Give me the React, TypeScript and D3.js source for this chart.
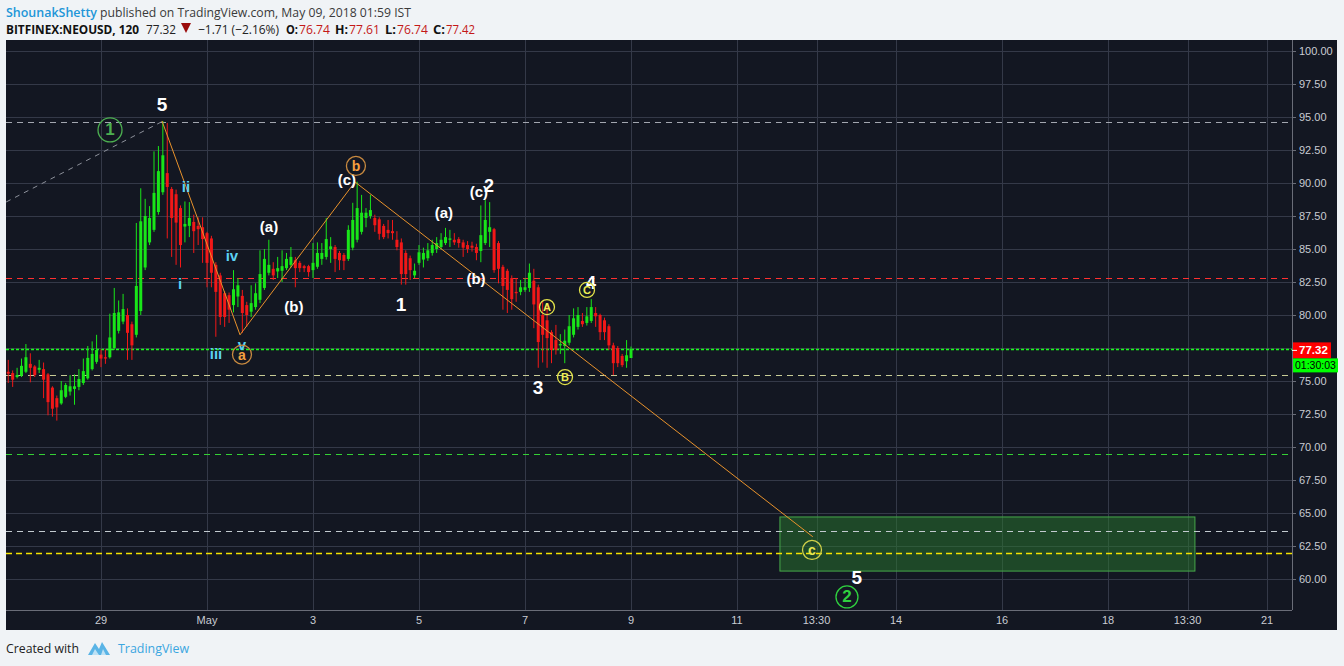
import React from 'react';
import * as d3 from 'd3';

// ---------------- data ----------------
const priceTicks = [60, 62.5, 65, 67.5, 70, 72.5, 75, 77.5, 80, 82.5, 85, 87.5, 90, 92.5, 95, 97.5, 100];
const dateTickDays = [0, 2, 4, 6, 8, 10, 12, 13.5, 15, 17, 19, 20.5, 22];
const dateTickLabels = ['29', 'May', '3', '5', '7', '9', '11', '13:30', '14', '16', '18', '13:30', '21'];

// 2h candles, day 0 = Apr 29 00:00
const firstCandleDay = -21 / 12;
const candleStepDay = 1 / 12;
// [open, high, low, close]
const ohlc: [number, number, number, number][] = [
  [75.7, 76.6, 74.85, 75.55], [75.6, 75.8, 74.55, 75.1], [75.3, 76.0, 75.2, 75.45], [75.4, 76.7, 75.3, 76.15],
  [75.7, 77.8, 75.6, 76.8], [76.3, 77.1, 74.9, 76.0], [76.1, 76.2, 75.3, 75.45], [75.85, 76.6, 75.6, 76.0],
  [75.9, 76.4, 73.7, 75.1], [75.5, 75.6, 72.4, 73.4], [74.5, 74.6, 72.3, 72.9], [73.7, 73.9, 72.0, 73.0],
  [73.3, 75.0, 73.2, 74.3], [73.8, 74.85, 73.7, 74.7], [74.2, 75.45, 73.9, 74.6], [74.4, 75.5, 73.2, 74.6],
  [74.55, 75.9, 74.3, 75.15], [74.85, 76.7, 74.7, 75.75], [75.2, 77.65, 75.1, 76.75], [75.9, 78.0, 75.8, 77.05],
  [76.45, 78.5, 76.3, 77.35], [77.0, 77.4, 76.05, 76.7], [76.8, 77.4, 76.3, 76.7], [76.8, 80.1, 76.7, 78.3],
  [77.5, 82.05, 77.35, 80.15], [78.8, 81.1, 78.6, 80.2], [79.5, 81.6, 79.3, 80.45], [80.0, 80.5, 76.6, 78.65],
  [79.3, 79.5, 76.6, 77.7], [78.5, 86.97, 78.3, 82.2], [80.3, 89.6, 80.0, 87.1], [83.6, 88.8, 83.4, 87.5],
  [85.5, 88.25, 85.3, 87.35], [86.45, 92.4, 86.3, 89.25], [87.8, 92.8, 87.6, 90.9], [89.3, 94.7, 89.1, 92.1],
  [90.75, 94.55, 85.8, 89.7], [89.55, 89.7, 84.4, 87.35], [89.15, 89.5, 83.8, 87.0], [88.1, 88.3, 83.6, 85.3],
  [86.7, 88.6, 85.5, 86.9], [86.75, 88.55, 85.9, 87.35], [87.05, 87.6, 84.7, 86.35], [86.75, 87.4, 85.3, 86.5],
  [86.65, 87.4, 83.95, 85.75], [86.2, 86.3, 82.1, 83.95], [85.8, 86.0, 82.1, 83.2], [83.8, 84.0, 78.35, 81.75],
  [83.0, 83.2, 79.25, 79.85], [81.65, 81.8, 79.1, 79.85], [81.5, 81.7, 79.4, 80.4], [80.75, 83.4, 80.2, 81.95],
  [81.4, 82.8, 80.6, 82.25], [81.45, 81.9, 78.65, 80.15], [80.75, 81.0, 79.1, 80.0], [80.25, 82.25, 79.85, 80.9],
  [80.6, 82.4, 80.4, 81.65], [81.15, 84.9, 80.9, 83.1], [82.05, 85.0, 81.9, 84.25], [83.2, 85.7, 83.0, 83.8],
  [83.5, 84.0, 82.65, 83.0], [83.3, 84.4, 82.8, 83.55], [83.35, 84.9, 82.5, 83.7], [83.55, 84.7, 83.4, 84.25],
  [83.8, 85.15, 83.6, 84.4], [84.15, 84.4, 82.1, 83.55], [83.95, 84.1, 83.25, 83.55], [83.7, 83.8, 83.25, 83.55],
  [83.7, 83.8, 82.9, 83.25], [83.4, 85.45, 82.8, 83.95], [83.65, 85.5, 83.5, 84.7], [84.25, 85.45, 83.8, 84.7],
  [84.4, 87.35, 84.2, 85.75], [85.0, 85.9, 83.95, 85.2], [85.15, 85.3, 83.25, 84.25], [84.7, 84.85, 83.4, 84.15],
  [84.55, 84.7, 83.4, 84.1], [84.25, 86.8, 84.1, 86.45], [85.1, 88.5, 84.9, 87.2], [85.7, 90.1, 85.5, 88.1],
  [86.3, 89.1, 86.1, 87.75], [87.35, 88.1, 86.65, 87.75], [87.5, 89.1, 87.3, 87.95], [87.35, 87.6, 86.3, 86.8],
  [87.25, 87.4, 85.7, 86.15], [86.75, 86.9, 85.75, 85.9], [86.45, 87.2, 85.8, 86.2], [86.35, 87.2, 85.7, 86.2],
  [85.7, 86.35, 84.9, 85.15], [85.5, 85.8, 82.3, 83.1], [84.7, 84.9, 82.3, 83.1], [84.3, 84.5, 82.65, 83.4],
  [83.0, 83.9, 82.8, 83.35], [83.95, 85.3, 83.8, 84.75], [84.2, 85.1, 83.6, 84.7], [84.3, 85.45, 84.1, 84.9],
  [84.7, 85.7, 84.5, 85.3], [85.0, 85.9, 84.7, 85.45], [85.15, 86.2, 84.95, 85.7], [85.45, 86.6, 85.3, 85.9],
  [85.7, 86.45, 85.15, 85.8], [85.7, 86.2, 85.3, 85.5], [85.75, 85.9, 85.1, 85.45], [85.5, 85.7, 84.4, 85.1],
  [85.3, 85.6, 84.7, 85.0], [85.25, 85.55, 84.8, 85.1], [85.15, 85.4, 84.15, 84.7], [84.85, 88.3, 84.0, 86.05],
  [85.45, 88.7, 85.3, 87.2], [86.3, 88.55, 85.15, 86.65], [86.5, 86.6, 83.2, 83.4], [85.45, 85.6, 82.4, 83.5],
  [83.65, 83.8, 80.4, 82.2], [83.35, 83.5, 80.15, 81.9], [82.8, 83.0, 80.4, 81.2], [81.75, 82.8, 81.0, 81.65],
  [81.75, 82.65, 81.5, 82.1], [81.9, 82.8, 81.75, 82.1], [82.05, 83.9, 81.75, 83.2], [82.6, 83.5, 79.0, 80.8],
  [82.1, 82.3, 76.0, 77.95], [80.0, 81.1, 76.4, 78.5], [79.6, 80.75, 76.0, 78.25], [78.7, 78.85, 76.35, 77.35],
  [78.1, 79.25, 77.0, 77.35], [77.7, 78.55, 77.05, 77.8], [77.65, 78.9, 76.35, 78.05], [77.9, 80.0, 77.7, 79.15],
  [78.5, 80.5, 78.3, 79.75], [79.1, 80.6, 78.9, 80.0], [79.55, 80.15, 79.1, 79.3], [79.4, 80.6, 79.2, 79.9],
  [79.55, 81.2, 79.4, 80.6], [80.15, 80.6, 79.1, 79.9], [80.0, 80.1, 78.1, 78.7], [79.6, 79.8, 78.1, 78.7],
  [79.15, 79.3, 77.35, 77.7], [77.7, 77.9, 75.45, 76.35], [77.5, 77.65, 76.05, 76.35], [76.9, 77.05, 76.05, 76.2],
  [76.5, 78.1, 76.0, 76.95], [76.74, 77.61, 76.74, 77.42],
];

const levelPrices = [94.65, 82.78, 77.45, 75.43, 69.5, 63.6, 61.95];
const levelColors = ['#a3a7b0', '#ff3030', '#1aff1a', '#c8cc96', '#35d035', '#c3cbd0', '#f5e400'];
const levelDashes = ['6,5', '6,5', '3,2', '6,5', '6,5', '6,5', '6,4'];
const levelWidths = [1, 1, 1.3, 1, 1, 1, 1.3];

const waveDays = [1.151, 2.623, 4.792, 13.43];
const wavePrices = [94.7, 78.5, 90.08, 63.2];
const trendDays = [-1.79, 1.15];
const trendPrices = [88.56, 94.65];

const boxDays = [12.81, 20.64];
const boxPrices = [60.6, 64.7];

const lastPrice = 77.32;
const lastPriceText = '77.32';
const countdownText = '01:30:03';

type Lbl = { t: number; p: number; text: string; color: string; size: number };
const textLabels: Lbl[] = [
  { t: 1.151, p: 95.91, text: '5', color: '#ffffff', size: 19 },
  { t: 1.604, p: 89.77, text: 'ii', color: '#5cd2f2', size: 15 },
  { t: 1.49, p: 82.35, text: 'i', color: '#5cd2f2', size: 15 },
  { t: 2.47, p: 84.47, text: 'iv', color: '#5cd2f2', size: 15 },
  { t: 2.17, p: 77.05, text: 'iii', color: '#5cd2f2', size: 15 },
  { t: 2.66, p: 77.8, text: 'v', color: '#5cd2f2', size: 15 },
  { t: 3.17, p: 86.74, text: '(a)', color: '#ffffff', size: 15 },
  { t: 3.64, p: 80.68, text: '(b)', color: '#ffffff', size: 15 },
  { t: 4.64, p: 90.23, text: '(c)', color: '#ffffff', size: 15 },
  { t: 6.47, p: 87.73, text: '(a)', color: '#ffffff', size: 15 },
  { t: 7.075, p: 82.8, text: '(b)', color: '#ffffff', size: 15 },
  { t: 7.13, p: 89.39, text: '(c)', color: '#ffffff', size: 15 },
  { t: 7.32, p: 89.77, text: '2', color: '#ffffff', size: 18 },
  { t: 5.66, p: 80.76, text: '1', color: '#ffffff', size: 19 },
  { t: 8.245, p: 74.47, text: '3', color: '#ffffff', size: 19 },
  { t: 9.245, p: 82.42, text: '4', color: '#ffffff', size: 18 },
  { t: 14.26, p: 60.08, text: '5', color: '#ffffff', size: 19 },
];

type Circ = { t: number; p: number; text: string; stroke: string; color: string; r: number; size: number };
const circledLabels: Circ[] = [
  { t: 0.17, p: 94.02, text: '1', stroke: '#4caf50', color: '#4caf50', r: 12, size: 17 },
  { t: 2.66, p: 77.0, text: 'a', stroke: '#c88a40', color: '#f5a040', r: 9.5, size: 14 },
  { t: 4.81, p: 91.29, text: 'b', stroke: '#c88a40', color: '#f5a040', r: 9.5, size: 14 },
  { t: 8.415, p: 80.6, text: 'A', stroke: '#e2e24a', color: '#eeee55', r: 7.5, size: 11 },
  { t: 8.755, p: 75.3, text: 'B', stroke: '#e2e24a', color: '#eeee55', r: 7.5, size: 11 },
  { t: 9.17, p: 81.9, text: 'C', stroke: '#e2e24a', color: '#eeee55', r: 7.5, size: 11 },
  { t: 13.415, p: 62.2, text: 'c', stroke: '#d2d24a', color: '#e6e650', r: 9.5, size: 14 },
  { t: 14.075, p: 58.64, text: '2', stroke: '#2fd03f', color: '#2fd03f', r: 11, size: 17 },
];

// ---------------- layout ----------------
const W = 1344;
const H = 666;
const panel = { left: 6, right: 1337, top: 40, bottom: 630 };
const plot = { left: 6, right: 1292, top: 40, bottom: 610 };

const xs = d3.scaleLinear().domain([0, 22]).range([101, 1267]);
const ys = d3.scaleLinear().domain([60, 100]).range([579, 51]);

const BG = '#131722';
const GRID = '#343948';
const GREEN = '#19e619';
const RED = '#f21818';
const AXIS_TEXT = '#c9ccd3';
const FONT = "'Liberation Sans', Arial, sans-serif";
const HFONT = "'Open Sans', 'Noto Sans', sans-serif";

export default function App() {
  const wavePath = d3.line<number>().x((_, i) => xs(waveDays[i])).y((p) => ys(p))(wavePrices) || '';
  const trendPath = d3.line<number>().x((_, i) => xs(trendDays[i])).y((p) => ys(p))(trendPrices) || '';

  const header1 = [
    { x: 6, len: 91, text: 'ShounakShetty', fill: '#2196d8', weight: 600 },
    { x: 100, len: 311, text: 'published on TradingView.com, May 09, 2018 01:59 IST', fill: '#3a3a3a', weight: 400 },
  ];
  const header2 = [
    { x: 6, len: 133, text: 'BITFINEX:NEOUSD, 120', fill: '#111', weight: 700 },
    { x: 146, len: 30, text: '77.32', fill: '#222', weight: 400 },
    { x: 198, len: 81, text: '\u22121.71 (\u22122.16%)', fill: '#222', weight: 400 },
    { x: 286, len: 12, text: 'O:', fill: '#111', weight: 700 },
    { x: 299, len: 31, text: '76.74', fill: '#c41818', weight: 400 },
    { x: 335, len: 13, text: 'H:', fill: '#111', weight: 700 },
    { x: 349, len: 31, text: '77.61', fill: '#c41818', weight: 400 },
    { x: 385, len: 11, text: 'L:', fill: '#111', weight: 700 },
    { x: 397, len: 31, text: '76.74', fill: '#c41818', weight: 400 },
    { x: 433, len: 12, text: 'C:', fill: '#111', weight: 700 },
    { x: 446, len: 29, text: '77.42', fill: '#c41818', weight: 400 },
  ];

  const yLast = ys(lastPrice);

  return (
    <div style={{ position: 'absolute', left: 0, top: 0 }}>
      <svg width={W} height={H} xmlns="http://www.w3.org/2000/svg" style={{ display: 'block' }}>
        <defs>
          <clipPath id="plotClip">
            <rect x={plot.left} y={plot.top} width={plot.right - plot.left} height={plot.bottom - plot.top} />
          </clipPath>
        </defs>
        <rect x={0} y={0} width={W} height={H} fill="#f0f3f6" />
        <rect x={panel.left} y={panel.top} width={panel.right - panel.left} height={panel.bottom - panel.top} fill={BG} />

        {/* header */}
        {header1.map((h, i) => (
          <text key={'h1' + i} x={h.x} y={17} fontFamily={HFONT} fontSize={13} fontWeight={h.weight} fill={h.fill}
            textLength={h.len} lengthAdjust="spacingAndGlyphs">{h.text}</text>
        ))}
        {header2.map((h, i) => (
          <text key={'h2' + i} x={h.x} y={34} fontFamily={HFONT} fontSize={13} fontWeight={h.weight} fill={h.fill}
            textLength={h.len} lengthAdjust="spacingAndGlyphs">{h.text}</text>
        ))}
        <path d="M181,23 L191,23 L186,33 Z" fill="#9b0d0d" />

        {/* grid */}
        <g clipPath="url(#plotClip)">
          {priceTicks.map((p) => (
            <line key={'gy' + p} x1={plot.left} x2={plot.right} y1={Math.round(ys(p)) + 0.5} y2={Math.round(ys(p)) + 0.5} stroke={GRID} strokeWidth={1} />
          ))}
          {dateTickDays.map((d, i) => (
            <line key={'gx' + i} x1={Math.round(xs(d)) + 0.5} x2={Math.round(xs(d)) + 0.5} y1={plot.top} y2={plot.bottom} stroke={GRID} strokeWidth={1} />
          ))}

          {/* target box */}
          <rect x={xs(boxDays[0])} y={ys(boxPrices[1])} width={xs(boxDays[1]) - xs(boxDays[0])} height={ys(boxPrices[0]) - ys(boxPrices[1])}
            fill="#2a7a2e" fillOpacity={0.5} stroke="#46a84a" strokeWidth={1} />

          {/* horizontal levels */}
          {levelPrices.map((p, i) => (
            <line key={'lv' + i} x1={plot.left} x2={plot.right} y1={Math.round(ys(p)) + 0.5} y2={Math.round(ys(p)) + 0.5}
              stroke={levelColors[i]} strokeWidth={levelWidths[i]} strokeDasharray={levelDashes[i]} />
          ))}

          {/* trend dashed */}
          <path d={trendPath} fill="none" stroke="#8d919b" strokeWidth={1} strokeDasharray="5,5" />

          {/* candles */}
          {ohlc.map(([o, h, l, c], i) => {
            const x = xs(firstCandleDay + i * candleStepDay);
            const up = c >= o;
            const col = up ? GREEN : RED;
            const top = ys(Math.max(o, c));
            const bot = ys(Math.min(o, c));
            return (
              <g key={'c' + i}>
                <line x1={x} x2={x} y1={ys(h)} y2={ys(l)} stroke={col} strokeWidth={1} />
                <rect x={x - 1.5} y={top} width={3} height={Math.max(1, bot - top)} fill={col} />
              </g>
            );
          })}

          {/* wave lines */}
          <path d={wavePath} fill="none" stroke="#e8922c" strokeWidth={1} />

          {/* labels */}
          {textLabels.map((l, i) => (
            <text key={'tl' + i} x={xs(l.t)} y={ys(l.p)} textAnchor="middle" dominantBaseline="central"
              fontFamily={FONT} fontWeight={700} fontSize={l.size} fill={l.color}>{l.text}</text>
          ))}
          {circledLabels.map((l, i) => (
            <g key={'cl' + i}>
              <circle cx={xs(l.t)} cy={ys(l.p)} r={l.r} fill="none" stroke={l.stroke} strokeWidth={1.3} />
              <text x={xs(l.t)} y={ys(l.p)} textAnchor="middle" dominantBaseline="central"
                fontFamily={FONT} fontWeight={700} fontSize={l.size} fill={l.color}>{l.text}</text>
            </g>
          ))}
        </g>

        {/* axes */}
        <line x1={plot.right + 0.5} x2={plot.right + 0.5} y1={plot.top} y2={plot.bottom} stroke="#6a6d78" strokeWidth={1} />
        <line x1={plot.left} x2={plot.right} y1={plot.bottom + 0.5} y2={plot.bottom + 0.5} stroke="#6a6d78" strokeWidth={1} />
        {priceTicks.map((p) => (
          <g key={'py' + p}>
            <line x1={plot.right} x2={plot.right + 4} y1={Math.round(ys(p)) + 0.5} y2={Math.round(ys(p)) + 0.5} stroke="#6a6d78" />
            <text x={plot.right + 7} y={ys(p)} dominantBaseline="central" fontFamily={FONT} fontSize={11} fill={AXIS_TEXT}>{p.toFixed(2)}</text>
          </g>
        ))}
        {dateTickDays.map((d, i) => (
          <text key={'dx' + i} x={xs(d)} y={624} textAnchor="middle" fontFamily={FONT} fontSize={11} fill={AXIS_TEXT}>{dateTickLabels[i]}</text>
        ))}

        {/* last price marker */}
        <rect x={plot.right + 1} y={yLast - 8} width={38} height={16} fill="#ff0000" />
        <line x1={plot.right} x2={plot.right + 5} y1={yLast} y2={yLast} stroke="#ffffff" />
        <text x={plot.right + 7} y={yLast} dominantBaseline="central" fontFamily={FONT} fontWeight={700} fontSize={11.5} fill="#ffffff">{lastPriceText}</text>
        <rect x={plot.right + 1} y={yLast + 8} width={45} height={14} fill="#00ff00" />
        <text x={plot.right + 3} y={yLast + 15} dominantBaseline="central" fontFamily={FONT} fontSize={10.5} fill="#000000">{countdownText}</text>

        {/* footer */}
        <text x={6} y={653} fontFamily={HFONT} fontSize={13} fill="#222" textLength={73} lengthAdjust="spacingAndGlyphs">Created with</text>
        <path d="M88,655 L95,643 L99,649 L102,642 L110,655 Z" fill="#5ab4e6" />
        <path d="M92,655 L95,649 L99,655 Z M101,655 L103,649 L106,655 Z" fill="#ffffff" fillOpacity={0.6} />
        <text x={118} y={653} fontFamily={HFONT} fontSize={13} fill="#3ba6e0" textLength={71} lengthAdjust="spacingAndGlyphs">TradingView</text>
      </svg>
    </div>
  );
}
